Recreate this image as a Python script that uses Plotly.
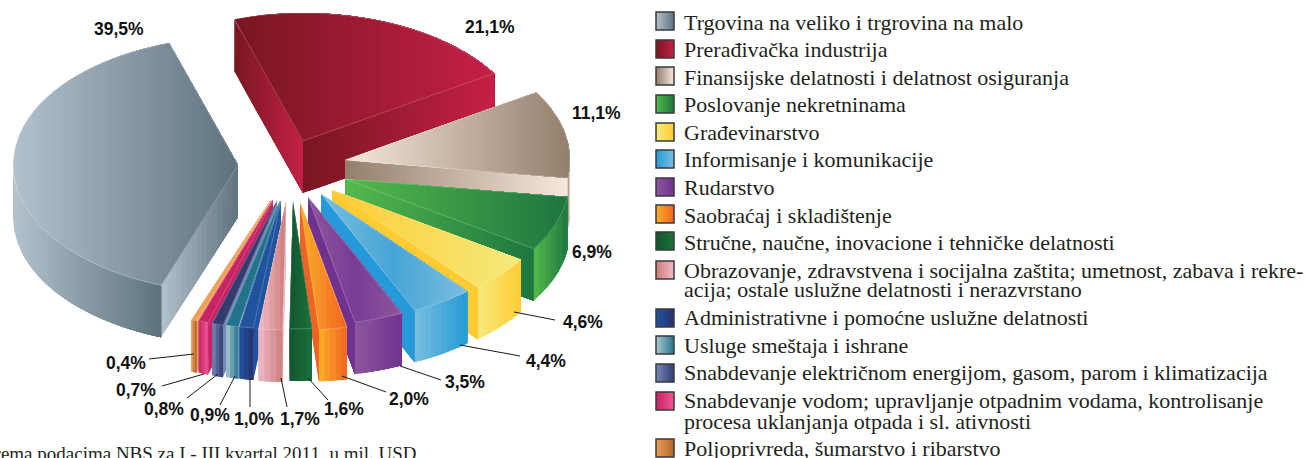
import math
import plotly.graph_objects as go

# ---------- data ----------
values = [39.5, 21.1, 11.1, 6.9, 4.6, 4.4, 3.5, 2.0, 1.6, 1.7, 1.0, 0.9, 0.8, 0.7, 0.4]
legend_lines = [
    ["Trgovina na veliko i trgrovina na malo"],
    ["Prerađivačka industrija"],
    ["Finansijske delatnosti i delatnost osiguranja"],
    ["Poslovanje nekretninama"],
    ["Građevinarstvo"],
    ["Informisanje i komunikacije"],
    ["Rudarstvo"],
    ["Saobraćaj i skladištenje"],
    ["Stručne, naučne, inovacione i tehničke delatnosti"],
    ["Obrazovanje, zdravstvena i socijalna zaštita; umetnost, zabava i rekre-",
     "acija; ostale uslužne delatnosti i nerazvrstano"],
    ["Administrativne i pomoćne uslužne delatnosti"],
    ["Usluge smeštaja i ishrane"],
    ["Snabdevanje električnom energijom, gasom, parom i klimatizacija"],
    ["Snabdevanje vodom; upravljanje otpadnim vodama, kontrolisanje",
     "procesa uklanjanja otpada i sl. ativnosti"],
    ["Poljoprivreda, šumarstvo i ribarstvo"],
]
footnote = "Prema podacima NBS za I - III kvartal 2011, u mil. USD"

# ---------- pie geometry (pixel-like axis units) ----------
START_ANGLE = 250.0
RX, RY, DEPTH = 225.0, 128.0, 52.0
explode_x = [238, 303, 345, 345, 332, 321, 308, 300, 293, 286, 281, 280, 277, 273, 271]
explode_y = [165, 141, 160, 179, 190, 194, 197, 202, 201, 202, 201, 201, 201, 200, 200]
draw_order = [0, 1, 2, 3, 4, 5, 6, 7, 14, 13, 12, 11, 10, 9, 8]

# ---------- styles: colour stops left->right for top / wall / cut faces ----------
GREY_L, GREY_D = (180, 194, 205), (94, 114, 126)
RED_D, RED_L = (120, 22, 32), (198, 32, 72)
BE_L, BE_D = (247, 232, 220), (148, 126, 108)
GR_L, GR_D = (84, 186, 76), (30, 118, 64)
Y_L, Y_D = (245, 234, 125), (255, 204, 52)
B_L, B_M, B_D = (122, 190, 222), (70, 165, 215), (38, 154, 216)
P_L, P_M, P_D = (140, 86, 156), (120, 60, 150), (112, 50, 145)
O_L, O_D = (250, 176, 40), (240, 100, 35)
DG_D, DG_L = (18, 85, 45), (28, 115, 60)
PK_L, PK_D = (241, 186, 202), (205, 125, 120)
NV_L, NV_D = (32, 84, 160), (40, 48, 108)
TL_L, TL_D = (172, 202, 208), (35, 115, 140)
SL_L, SL_D = (116, 136, 186), (50, 60, 110)
MG_D, MG_L = (200, 35, 100), (236, 86, 150)
BR_L, BR_D = (236, 160, 90), (176, 100, 40)

face_styles = [
    dict(top=[GREY_L, GREY_D], wall=[GREY_L, GREY_D], cut=[GREY_L, GREY_D]),
    dict(top=[RED_D, RED_L], wall=[RED_D, RED_L], cut=[RED_D, RED_L]),
    dict(top=[BE_L, BE_D], wall=[BE_D, BE_L], cut=[BE_D, BE_L]),
    dict(top=[GR_L, GR_D], wall=[GR_L, GR_D], cut=[GR_L, GR_D]),
    dict(top=[Y_D, Y_L], wall=[Y_L, Y_D], cut=[Y_D, Y_D]),
    dict(top=[B_L, B_M, B_L], wall=[B_L, B_D], cut=[B_D, B_D]),
    dict(top=[P_L, P_M, P_L], wall=[P_L, P_D], cut=[P_D, P_D]),
    dict(top=[O_L, O_D], wall=[O_L, O_D], cut=[O_D, O_D]),
    dict(top=[DG_D, DG_L], wall=[DG_D, DG_L], cut=[DG_D, DG_D]),
    dict(top=[PK_L, PK_D], wall=[PK_L, PK_D], cut=[PK_L, PK_L]),
    dict(top=[NV_L, NV_L], wall=[NV_L, NV_D], cut=[NV_L, NV_L]),
    dict(top=[TL_D, TL_D], wall=[TL_L, TL_D], cut=[TL_L, TL_L]),
    dict(top=[SL_D, SL_D], wall=[SL_L, SL_D], cut=[SL_L, SL_L]),
    dict(top=[MG_D, MG_D], wall=[MG_D, MG_L], cut=[MG_D, MG_D]),
    dict(top=[BR_L, BR_L], wall=[BR_L, BR_D], cut=[BR_L, BR_L]),
]
legend_swatch = [
    (GREY_L, GREY_D), (RED_D, RED_L), (BE_D, BE_L), (GR_L, GR_D), (Y_L, Y_D),
    (B_D, B_L), (P_L, P_D), (O_L, O_D), (DG_D, DG_L), (PK_D, PK_L),
    (NV_L, NV_D), (TL_L, TL_D), (SL_L, SL_D), (MG_D, MG_L), (BR_L, BR_D),
]

# ---------- label layout ----------
label_x = [119, 490, 596, 592, 583, 546, 465, 409, 344, 300, 254, 210, 164, 136, 126]
label_y = [29, 27, 113, 252, 322, 361, 382, 399, 409, 419, 419, 415, 409, 390, 363]
leader_from = {4: (514, 312), 5: (460, 345), 6: (400, 366), 7: (342, 376), 8: (308, 378),
               9: (281, 378), 10: (250, 378), 11: (235, 376), 12: (218, 374), 13: (204, 374), 14: (194, 354)}
leader_to = {4: (555, 320), 5: (520, 356), 6: (441, 380), 7: (386, 392), 8: (328, 400),
             9: (287, 407), 10: (250, 407), 11: (220, 405), 12: (187, 398), 13: (162, 386), 14: (149, 359)}
swatch_y = [21, 49, 76, 104, 132, 159, 187, 214, 241, 270, 318, 345, 373, 401, 448]
text_y = [[22], [49], [77], [104], [132], [159], [187], [215], [242], [270, 289],
          [317], [345], [372], [400, 421], [448]]
SWATCH_X, TEXT_X = 665, 682
LEG_FONT = 22


def lerp_stops(stops, f):
    f = min(max(f, 0), 1) * (len(stops) - 1)
    i = min(int(f), len(stops) - 2)
    u = f - i
    return tuple(stops[i][k] + (stops[i + 1][k] - stops[i][k]) * u for k in range(3))


def clip_right(poly, xc):
    out = []
    n = len(poly)
    for i in range(n):
        a, b = poly[i], poly[(i + 1) % n]
        ina, inb = a[0] >= xc, b[0] >= xc
        if ina:
            out.append(a)
        if ina != inb:
            u = (xc - a[0]) / (b[0] - a[0])
            out.append((xc, a[1] + (b[1] - a[1]) * u))
    return out


fig = go.Figure()


def add_face(poly, stops):
    xs = [p[0] for p in poly]
    x0, x1 = min(xs), max(xs)
    w = x1 - x0
    if w <= 0:
        return
    n = max(3, min(45, int(w / 5)))
    for k in range(n):
        xc = x0 + w * k / n
        part = clip_right(poly, xc) if k else poly
        if len(part) < 3:
            continue
        r, g, b = lerp_stops(stops, (k + 0.5) / n)
        col = f"rgb({r:.0f},{g:.0f},{b:.0f})"
        fig.add_trace(go.Scatter(
            x=[p[0] for p in part] + [part[0][0]], y=[p[1] for p in part] + [part[0][1]],
            mode="lines", fill="toself", fillcolor=col, line=dict(width=0, color=col),
            hoverinfo="skip", showlegend=False))


angles = []
cum = START_ANGLE
for v in values:
    angles.append((cum, cum - v * 3.6))
    cum -= v * 3.6


def rim(i, t):
    r = math.radians(t)
    return (explode_x[i] + RX * math.cos(r), explode_y[i] - RY * math.sin(r))


def arc(i, a, b, step=1.0):
    n = max(2, int(abs(a - b) / step) + 1)
    return [rim(i, a + (b - a) * j / (n - 1)) for j in range(n)]


def down(p):
    return (p[0], p[1] + DEPTH)


def visible_wall(t0, t1):
    """Parts of the rim between t0 > t1 that face the viewer (sin t < 0)."""
    parts = []
    for hi, lo in ((360.0, 180.0), (0.0, -180.0)):
        a, b = min(t0, hi), max(t1, lo)
        if a > b:
            parts.append((a, b))
    return parts


for i in draw_order:
    t0, t1 = angles[i]
    tip = (explode_x[i], explode_y[i])
    st = face_styles[i]
    for t in (t0, t1):
        p = rim(i, t)
        add_face([tip, p, down(p), down(tip)], st["cut"])
    for a, b in visible_wall(t0, t1):
        pts = arc(i, a, b)
        add_face(pts + [down(p) for p in reversed(pts)], st["wall"])
    pts = arc(i, t0, t1)
    add_face([tip] + pts, st["top"])
    fig.add_trace(go.Scatter(
        x=[tip[0]] + [p[0] for p in pts] + [tip[0]], y=[tip[1]] + [p[1] for p in pts] + [tip[1]],
        mode="lines", line=dict(width=0.6, color="rgba(255,255,255,0.35)"),
        hoverinfo="skip", showlegend=False))

# leader lines
for i, a in leader_from.items():
    b = leader_to[i]
    fig.add_trace(go.Scatter(x=[a[0], b[0]], y=[a[1], b[1]], mode="lines",
                             line=dict(width=1, color="#1a1a1a"), hoverinfo="skip", showlegend=False))

# legend swatches
fig.add_trace(go.Scatter(
    x=[SWATCH_X] * len(values), y=swatch_y, mode="markers", hoverinfo="skip", showlegend=False,
    marker=dict(symbol="square", size=18,
                color=[f"rgb{c[0]}" for c in legend_swatch],
                gradient=dict(type="horizontal", color=[f"rgb{c[1]}" for c in legend_swatch]),
                line=dict(width=1.5, color="#3a3a3a"))))

ann = []
for i, v in enumerate(values):
    ann.append(dict(x=label_x[i], y=label_y[i], text="<b>" + f"{v:.1f}".replace(".", ",") + "%</b>",
                    showarrow=False, xanchor="center", yanchor="middle",
                    font=dict(family="Liberation Sans", size=17.5, color="#111")))
    for line, y in zip(legend_lines[i], text_y[i]):
        ann.append(dict(x=TEXT_X, y=y, text=line, showarrow=False, xanchor="left", yanchor="middle",
                        font=dict(family="Liberation Serif", size=LEG_FONT, color="#231f20")))
ann.append(dict(x=419, y=453, text=footnote, showarrow=False, xanchor="right", yanchor="middle",
                font=dict(family="Liberation Serif", size=19, color="#231f20")))

fig.update_layout(
    width=1306, height=458, margin=dict(l=0, r=0, t=0, b=0),
    paper_bgcolor="white", plot_bgcolor="white", showlegend=False, annotations=ann,
    xaxis=dict(range=[0, 1306], visible=False, fixedrange=True),
    yaxis=dict(range=[458, 0], visible=False, fixedrange=True),
)
fig.write_html("out.html", config=dict(displayModeBar=False),
               post_script="document.body.style.margin='0';document.documentElement.style.overflow='hidden';")
